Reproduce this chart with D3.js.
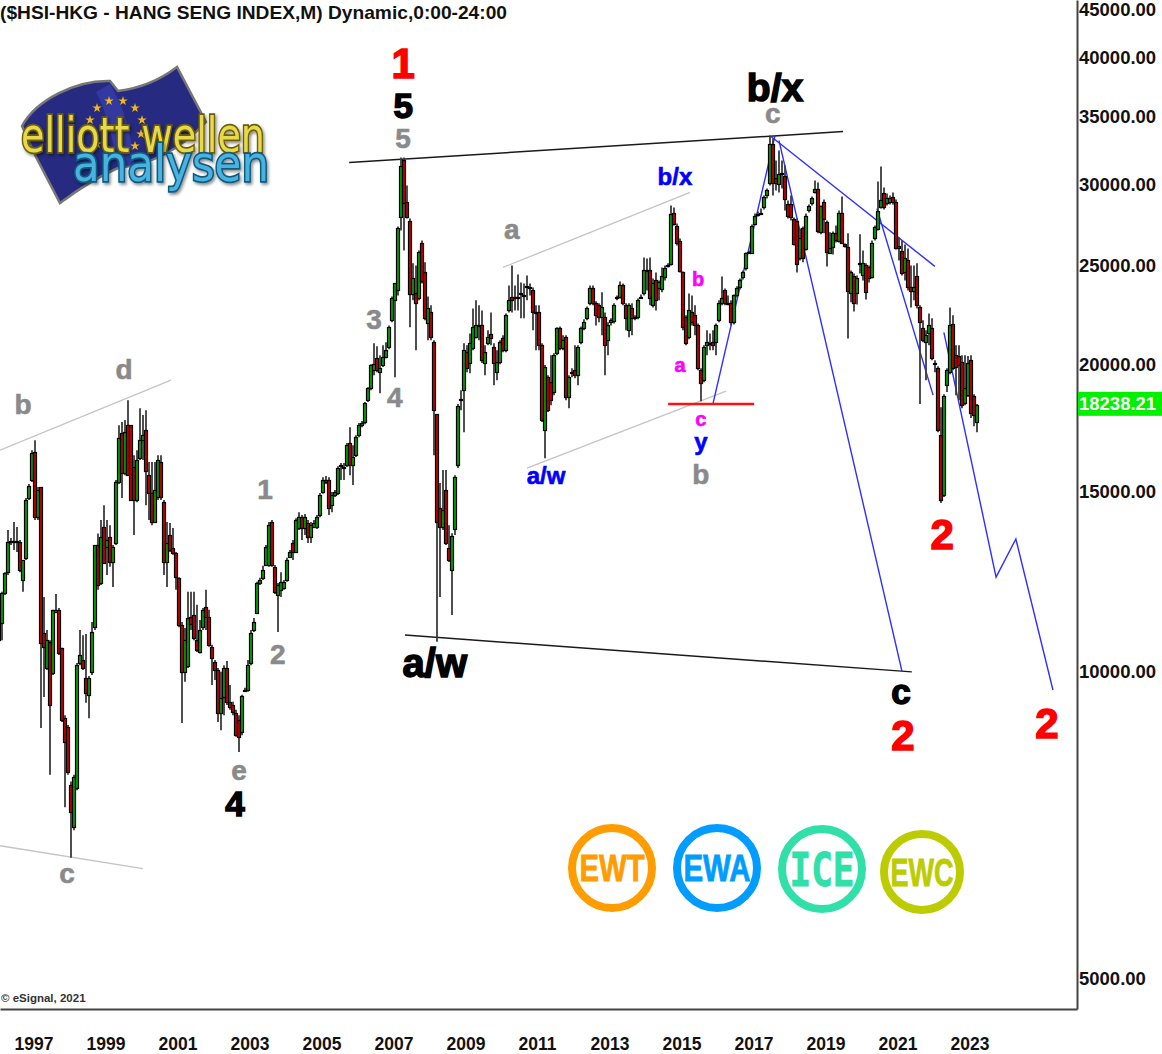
<!DOCTYPE html>
<html><head><meta charset="utf-8">
<script src="https://cdn.jsdelivr.net/npm/d3@7/dist/d3.min.js"></script>
<style>html,body{margin:0;padding:0;background:#fff}svg{display:block}text{font-family:"Liberation Sans",Arial,sans-serif}</style>
</head><body><div id="chart"></div>
<script>
const firstBarYear = 1996 + 7 / 12;
const yearTicks = [1997,1999,2001,2003,2005,2007,2009,2011,2013,2015,2017,2019,2021,2023];
const priceTicks = [45000,40000,35000,30000,25000,20000,15000,10000,5000];
const lastPriceLabel = "18238.21";

const opens = [
10720,11150,11930,12500,13380,13410,13410,13380,12280,12910,14780,15390,
16390,14150,15150,10900,10070,10680,9950,11430,11480,10540,8990,8810,
7730,7030,7680,10180,10250,9840,9480,9980,11040,13290,12200,13840,
13230,13530,12790,13350,15320,17100,15630,17420,17420,15850,14710,16170,
16840,17220,15560,14950,14000,14810,16030,14640,12790,13590,13200,13050,
12340,11090,9980,10110,11300,11350,10720,10440,11040,11560,11300,10560,
10210,10020,9100,9430,10070,9330,9260,9100,8950,8710,9580,9580,
10180,10970,11400,12200,12340,12700,12700,14000,12650,11870,12010,12060,
12280,12940,13350,13080,13810,14150,13810,13970,13530,13840,13840,14220,
14980,15390,15390,14540,14880,14950,15880,15850,15920,16730,15920,16280,
17030,17420,17540,18430,18940,19720,20260,19630,19950,20310,20770,22070,
23090,23610,27900,31730,28800,27650,23450,23450,23190,26310,24590,21930,
22470,21010,17860,14440,13840,15050,13200,12560,13780,15920,18430,18850,
20540,20040,20720,21240,21820,21820,20040,20960,21390,20770,19630,20080,
21190,20630,22570,23240,23240,23290,23400,23350,23770,23770,23610,22470,
22470,20860,17220,19410,19190,18770,20490,21680,20720,21240,18560,19590,
19720,19500,21010,21680,22170,22940,23720,22940,22830,22220,22220,21100,
21970,22020,23240,23240,23880,22830,21580,22670,22170,22220,23240,23450,
24700,24700,22830,24150,23720,23720,24310,24980,25100,28150,27340,26430,
24590,22220,21240,22470,22320,21820,19720,19280,20860,20960,21010,21010,
22070,22940,23610,22940,22940,21970,23350,23770,24310,24820,25730,25730,
27460,28030,28150,28470,29260,30120,32900,30470,30060,30810,30600,28730,
28730,27770,27650,25380,27160,25960,28280,28730,29460,29660,26920,28860,
27530,25730,26010,26860,26430,28150,26250,26070,23450,24420,23510,25040,
24420,24980,24870,24370,26550,27160,28470,29390,28730,28800,29130,28860,
26130,25840,24590,25270,23770,23560,24370,22720,21680,21010,21430,21680,
20040,19810,17030,14880,19060,19630,21870,20400,20360,20080,18310,18640,
20170,18600,17540];

const highs = [
11220,11960,12500,13750,13500,14000,13840,13440,12850,14780,15250,16460,
16840,15150,15150,11820,10970,10720,11480,11900,11530,10540,9050,8850,
7790,7910,10180,10970,10840,10870,9890,11170,13290,13640,14060,14540,
14060,13900,13290,15390,17420,17540,17620,18430,17420,16280,16460,18100,
17820,18020,16030,16030,16030,16280,16280,14710,14000,13970,13810,13080,
12360,11170,11020,11960,11960,11960,11610,11220,11530,12010,11480,10610,
10250,10070,9980,10130,10230,9690,9330,9160,9050,9480,9630,10250,
10970,11270,12230,12340,12680,13290,14000,14060,12700,12200,12500,12280,
12910,13140,13440,14120,14310,14220,14250,14060,14000,14060,14220,14950,
15490,15530,15490,14980,15050,15880,15990,15990,16730,17340,16650,17030,
17500,17580,18350,18980,19990,20960,20820,20400,20860,21010,21820,23290,
23990,27280,31870,31870,29920,27770,25100,24980,25840,26430,25160,23290,
22830,21100,17860,15290,15740,15740,13900,13650,15560,18270,18850,20960,
20860,21430,22670,23090,22830,22570,20860,21580,22470,20960,20630,21100,
21340,22420,23880,24980,23880,24480,24040,23990,24420,23990,23770,22830,
22830,20960,19950,19500,20400,20490,21730,21770,21340,21340,19500,19810,
20860,20860,21770,22120,22770,23880,23880,23040,22940,23510,22470,21970,
22170,22940,23350,24100,23990,22940,22940,22940,22320,23190,23400,25440,
25380,25440,24260,24590,24150,24870,24980,25100,28600,28470,27460,26550,
24650,22320,23450,23350,22830,21920,19810,20860,21580,21430,21580,21920,
23090,24370,23720,23350,23090,23400,23830,24260,24700,25730,25840,27400,
28090,28220,28410,29260,29720,33500,33270,31660,32380,31660,31300,28930,
29260,27840,27770,27160,27280,28090,28670,29190,30260,30120,28600,29000,
27650,26920,26980,27340,28280,29190,26250,26860,24700,24530,24420,26800,
25840,25100,24980,26430,27340,30190,31230,29790,29390,29260,29460,29000,
26610,26430,26190,25960,24980,24980,25100,22830,22070,21580,22420,22170,
20170,19900,18140,18680,19810,22720,22320,20860,20860,20400,20400,20360,
20400,18680,18270];

const lows = [
10680,10720,11870,12420,13290,13140,13080,12500,11960,12850,14710,15320,
14060,14060,8790,9430,10020,7910,9910,11430,10370,8910,7350,7910,
6560,6980,7640,10130,10020,9310,8990,9910,10970,12010,12140,12760,
12420,12650,12090,13290,15250,14780,15560,15630,14710,13590,14640,16100,
16100,14540,14060,13900,13970,14710,14710,12420,12090,13080,13000,12010,
11040,8890,9760,10070,10970,10720,10440,10400,10970,10970,10560,9690,
9800,8910,8750,9050,9260,9160,9050,8620,8330,8650,9540,9540,
10130,10920,11380,12140,12280,12680,12650,12650,11900,10920,11820,12010,
12230,12910,12850,13050,13750,13440,13590,13350,13350,13810,13780,14150,
14920,15250,14220,14310,14810,14880,15390,15390,15850,15560,15220,16210,
16950,17340,17460,18350,18850,19500,19630,18720,19860,20260,20680,21970,
19410,23350,27040,25840,27770,21730,23090,20630,23090,23990,22070,21100,
21100,16280,10680,11820,13750,13290,12790,11350,13590,15810,18020,17140,
19630,19590,20630,21190,21100,20040,19500,20860,20860,19060,19280,19990,
20540,20540,22470,22470,22570,22570,22170,22170,23090,23350,21580,20630,
20630,17540,16170,17940,18220,18640,20400,20630,20630,18430,18100,19410,
19370,19060,20910,21580,22070,22830,22830,21820,21970,21340,19500,20400,
21820,21920,23090,23190,22830,21580,21240,21340,22070,22120,23190,23350,
23610,22830,22720,22570,23090,23510,24150,24870,24980,27340,26130,24590,
21580,20860,21150,21820,21340,19720,18390,19190,20400,20630,20630,20400,
21970,22830,22830,22830,21820,21870,23240,23660,24200,24700,25670,25670,
27340,27900,28030,28350,29060,29920,29260,29590,29460,29720,28280,27770,
27650,26130,24590,25270,25160,25840,28150,28600,29390,26860,26800,26860,
24930,25670,25610,26310,26310,26250,26010,21190,22990,22520,22880,24530,
24150,23140,24040,24260,26430,27040,28410,28350,28600,28670,28670,25900,
25270,24420,24150,23610,22720,23090,22670,18270,21010,19280,20860,20170,
19630,17140,14610,14810,18770,19540,19720,18640,18430,18100,18220,18560,
17700,17380,17140];

const closes = [
11150,11930,12470,13380,13410,13410,13380,12560,12850,14710,15190,16350,
14150,15050,10650,10560,10720,9260,11480,11480,10420,8950,8520,7950,
7270,7870,10130,10370,10070,9510,9840,10920,13290,12140,13530,12760,
13440,12790,13230,15320,16920,15630,17140,15560,14710,14710,16100,16840,
17030,15700,14950,14000,15050,16100,14810,12790,13350,13140,13050,12360,
11090,9980,10720,11270,11120,10770,10490,10970,11480,11300,10610,10300,
10020,9100,9410,10070,9330,9220,9120,8650,8620,9450,9580,10130,
10900,11170,12200,12280,12560,13230,13900,12700,11960,12140,12230,12230,
12850,13080,13080,14060,14150,13810,14150,13530,13900,13970,14150,14880,
15390,15320,14440,14880,14980,15810,15920,15850,16650,15920,16210,16950,
17420,17500,18310,18940,19950,19990,19720,19810,20310,20630,21720,23190,
23990,27160,31300,28800,27840,23450,24310,22940,25730,24150,22170,22670,
21240,18020,14000,13840,14380,13350,12850,13560,15490,18180,18470,20630,
19810,20960,21730,21820,21820,20170,20540,21240,21190,20040,20080,21010,
20630,22320,23090,23090,23290,23290,23450,23350,23830,23720,22470,22420,
20860,17620,19860,18020,18430,20400,21680,20720,21100,18560,19410,19630,
19500,20770,21680,21970,22670,23720,22940,22320,22220,22720,20860,21820,
22070,22830,23240,23880,22940,22170,22830,22170,22220,23090,23290,24700,
24700,23190,23990,23090,24040,24420,24820,24980,28090,27460,26310,24700,
21730,20960,22570,21970,21820,19810,19150,20770,21010,20960,20860,21820,
22940,23190,22940,22940,21970,23350,23720,24150,24590,25670,25780,27340,
27960,28090,28150,29130,29590,32900,30120,30120,30740,30740,29060,27960,
27900,26250,25100,26550,25380,27960,28540,29060,29660,26980,28540,27770,
25730,26010,26860,26430,28150,26310,26130,23610,24590,22990,24310,25100,
25100,23510,24260,26310,27220,28280,28930,28470,29060,29060,28800,26010,
26010,24590,25380,23770,23560,23770,22830,21970,21100,21340,21820,20260,
19990,17220,14710,18600,19720,21820,19810,19860,19950,18220,18940,20040,
17900,17820,18238.21];

// trend lines in [year, price] vertices
const blackLines = [
  [[2006.31,31520],[2020.03,33800]],
  [[2007.86,10845],[2021.94,9980]]
];
const grayLines = [
  [[1996.61,16460],[2001.36,19280]],
  [[1996.61,6740],[2000.58,6400]],
  [[2010.58,24870],[2015.78,29460]],
  [[2011.25,15810],[2016.78,18810]]
];
const blueLines = [
  [[2018.25,33120],[2021.67,9980]],
  [[2018.03,33420],[2022.58,24930]],
  [[2016.42,18310],[2018.14,33500]],
  [[2020.97,28410],[2022.53,18640]],
  [[2022.83,21480],[2024.28,12360],[2024.83,13470],[2025.86,9580]]
];
const redLines = [
  [[2015.17,18270],[2017.56,18270]]
];

const gray = "#8a8a8a", red = "#ff0000", blue = "#0000ff", mag = "#ff00ff", blk = "#000";
const waveLabels = [
  ["1",2007.81,39500,42,red],["5",2007.81,35890,35,blk],["5",2007.81,33350,28,gray],
  ["b/x",2018.14,37380,39,blk],["c",2018.08,35250,28,gray],["b/x",2015.36,30530,24,blue],
  ["a",2010.83,27100,28,gray],["b",2016.0,24260,20,mag],["a",2015.5,19950,20,mag],
  ["c",2016.08,17660,20,mag],["y",2016.08,16800,24,blue],["b",2016.08,15600,28,gray],
  ["a/w",2011.78,15560,24,blue],["3",2007,22120,28,gray],["4",2007.58,18550,28,gray],
  ["1",2003.97,15080,28,gray],["2",2004.33,10390,28,gray],["b",1997.25,18270,28,gray],
  ["d",2000.06,19760,28,gray],["e",2003.25,8000,28,gray],["4",2003.14,7420,35,blk],
  ["c",1998.47,6340,28,gray],["a/w",2008.69,10180,40,blk],["c",2021.64,9540,35,blk],
  ["2",2021.69,8650,42,red],["2",2022.78,13630,42,red],["2",2025.69,8890,42,red]
];

const W = 1162, H = 1054, plotW = 1077, plotH = 1009;
const x = d3.scaleLinear().domain([1996.611, 2026.528]).range([0, plotW]);
const y = d3.scaleLog().domain([45490, 4662]).range([0, plotH]);

const svg = d3.select("#chart").append("svg").attr("width", W).attr("height", H).attr("viewBox", `0 0 ${W} ${H}`);
const defs = svg.append("defs");
defs.append("clipPath").attr("id", "plot").append("rect").attr("width", plotW).attr("height", plotH);
defs.append("filter").attr("id", "soft").attr("x", "-2%").attr("y", "-2%").attr("width", "104%").attr("height", "104%")
  .append("feGaussianBlur").attr("stdDeviation", 0.35);
const shadow = defs.append("filter").attr("id", "shadow").attr("x", "-10%").attr("y", "-10%").attr("width", "120%").attr("height", "130%");
shadow.append("feDropShadow").attr("dx", 1.5).attr("dy", 2).attr("stdDeviation", 1.5).attr("flood-color", "#000").attr("flood-opacity", 0.45);

const plot = svg.append("g").attr("clip-path", "url(#plot)");
const lineGen = d3.line().x(d => x(d[0])).y(d => y(d[1]));
function drawLines(list, color, width) {
  plot.append("g").selectAll("path").data(list).join("path")
    .attr("d", lineGen).attr("fill", "none").attr("stroke", color).attr("stroke-width", width);
}
drawLines(grayLines, "#c4c4c4", 1.3);
drawLines(blackLines, "#1a1a1a", 1.5);
drawLines(blueLines, "#2f2fff", 1.4);

// candles
const bars = closes.map((c, i) => ({ t: firstBarYear + i / 12, o: opens[i], h: highs[i], l: lows[i], c }));
const gBars = plot.append("g").attr("filter", "url(#soft)").selectAll("g").data(bars).join("g");
const cx = d => Math.round(x(d.t));
gBars.append("line").attr("x1", cx).attr("x2", cx)
  .attr("y1", d => y(d.h)).attr("y2", d => y(d.l))
  .attr("stroke", "#3c3c3c").attr("stroke-width", 1.8);
gBars.append("rect")
  .attr("x", d => cx(d) - 1.5).attr("width", 3)
  .attr("y", d => Math.round(y(Math.max(d.o, d.c))) + 0.5)
  .attr("height", d => Math.max(1, Math.round(Math.abs(y(d.o) - y(d.c)))))
  .attr("fill", d => d.c >= d.o ? "#00a000" : "#c00000")
  .attr("stroke", "#000").attr("stroke-width", 1.2);
drawLines(redLines, "#ff1010", 2.6);

// wave labels
plot.append("g").selectAll("text").data(waveLabels).join("text")
  .attr("x", d => x(d[1])).attr("y", d => y(d[2])).attr("dy", "0.36em")
  .attr("text-anchor", "middle").attr("font-weight", "700")
  .attr("font-size", d => d[3]).attr("fill", d => d[4])
  .attr("stroke", d => d[4]).attr("stroke-width", d => d[3] >= 35 ? 1.5 : 0.6)
  .text(d => d[0]);

// frame + axes
const yAxis = d3.axisRight(y).tickValues(priceTicks).tickSize(0).tickPadding(2).tickFormat(d3.format(".2f"));
const gy = svg.append("g").attr("transform", `translate(${plotW},0)`).call(yAxis);
gy.select(".domain").attr("stroke", "#444").attr("stroke-width", 2);
gy.selectAll(".tick").attr("transform", d => `translate(0,${Math.max(10, y(d) + 1)})`);
gy.selectAll("text").attr("font-size", 18.5).attr("font-weight", 700).attr("fill", "#111")
  .style("font-family", '"Liberation Sans",Arial,sans-serif');

const xAxis = d3.axisBottom(x).tickValues(yearTicks).tickSize(0).tickPadding(28.5).tickFormat(d3.format("d"));
const gx = svg.append("g").attr("transform", `translate(0,${plotH})`).call(xAxis);
gx.select(".domain").attr("stroke", "#444").attr("stroke-width", 2);
gx.selectAll("text").attr("text-anchor", "start").attr("font-size", 17.5).attr("font-weight", 700).attr("fill", "#111")
  .style("font-family", '"Liberation Sans",Arial,sans-serif');

// last price tag
const tagY = y(closes[closes.length - 1]);
svg.append("rect").attr("x", plotW + 1).attr("y", tagY - 13).attr("width", W - plotW).attr("height", 24).attr("fill", "#00f000");
svg.append("text").attr("x", plotW + 2).attr("y", tagY - 1).attr("dy", "0.35em").attr("font-size", 18.5).attr("font-weight", 700)
  .attr("fill", "#fff").text(lastPriceLabel);

// header + copyright
svg.append("text").attr("x", 0).attr("y", 19).attr("font-size", 18.5).attr("font-weight", 700).attr("fill", "#111")
  .attr("textLength", 507).attr("lengthAdjust", "spacingAndGlyphs")
  .text("($HSI-HKG - HANG SENG INDEX,M) Dynamic,0:00-24:00");
svg.append("text").attr("x", 1).attr("y", 1002).attr("font-size", 11.5).attr("font-weight", 700).attr("fill", "#333").text("© eSignal, 2021");

// logo
const logo = svg.append("g");
logo.append("path")
  .attr("d", "M22,126 C36,100 76,80 110,81 L118,91 C142,88 160,80 177,67 L206,122 C180,150 150,165 118,168 C100,176 80,188 60,203 L36,157 Z")
  .attr("fill", "#262a80").attr("stroke", "#777").attr("stroke-width", 2.5);
logo.append("path").attr("d", "M110,84 C125,110 130,130 135,165 L118,168 C112,135 106,110 96,92 Z").attr("fill", "#3a40b0").attr("opacity", 0.7);
const stars = [[97,108],[109,101],[123,101],[135,108],[142,120],[141,134],[135,146],[90,120],[97,144]];
logo.selectAll(".star").data(stars).join("path")
  .attr("d", d3.symbol(d3.symbolStar, 28))
  .attr("transform", d => `translate(${d[0]},${d[1]})`).attr("fill", "#f0b814");
logo.append("text").attr("x", 21).attr("y", 152).attr("font-size", 48).attr("font-weight", 400)
  .attr("textLength", 244).attr("lengthAdjust", "spacingAndGlyphs")
  .style("font-family", "'DejaVu Sans',sans-serif")
  .attr("fill", "#e6d94e").attr("stroke", "#6e6000").attr("stroke-width", 3.5).attr("paint-order", "stroke")
  .attr("filter", "url(#shadow)").text("elliott wellen");
logo.append("text").attr("x", 73).attr("y", 181).attr("font-size", 50).attr("font-weight", 400)
  .attr("textLength", 196).attr("lengthAdjust", "spacingAndGlyphs")
  .style("font-family", "'DejaVu Sans',sans-serif")
  .attr("fill", "#4cb2e0").attr("stroke", "#0f5c80").attr("stroke-width", 3.5).attr("paint-order", "stroke")
  .attr("filter", "url(#shadow)").text("analysen");

// service badges
const badges = [
  { t: "EWT", cx: 612, cy: 868, r: 40, c: "#ff9c00", fs: 37, w: 65, f: '"Liberation Sans Narrow","Liberation Sans"' },
  { t: "EWA", cx: 717, cy: 868, r: 40, c: "#009cff", fs: 37, w: 67, f: '"Liberation Sans Narrow","Liberation Sans"' },
  { t: "ICE", cx: 822, cy: 869, r: 40, c: "#30e0a8", fs: 46, w: 65, f: '"DejaVu Sans Mono"' },
  { t: "EWC", cx: 922, cy: 872, r: 38, c: "#bccc00", fs: 38, w: 63, f: '"Liberation Sans Narrow","Liberation Sans"' }
];
const gb = svg.append("g").selectAll("g").data(badges).join("g");
gb.append("circle").attr("cx", d => d.cx).attr("cy", d => d.cy).attr("r", d => d.r)
  .attr("fill", "none").attr("stroke", d => d.c).attr("stroke-width", 8);
gb.append("text").attr("x", d => d.cx - d.w / 2).attr("y", d => d.cy).attr("dy", "0.36em")
  .attr("font-size", d => d.fs).attr("font-weight", 700).attr("fill", d => d.c)
  .attr("stroke", d => d.c).attr("stroke-width", 0.8)
  .attr("textLength", d => d.w).attr("lengthAdjust", "spacingAndGlyphs")
  .style("font-family", d => d.f).text(d => d.t);
</script></body></html>
